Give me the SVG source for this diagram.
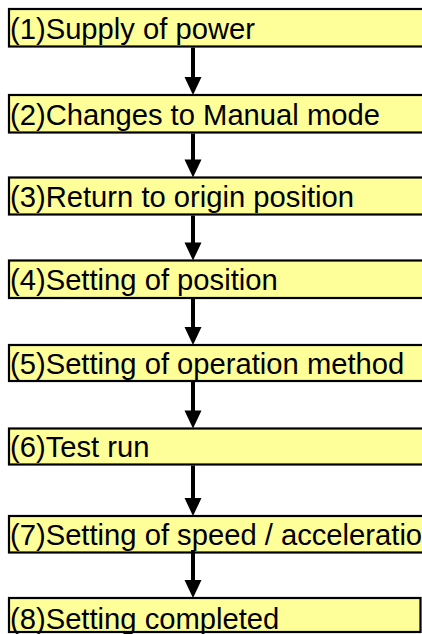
<svg xmlns="http://www.w3.org/2000/svg" width="422" height="634" viewBox="0 0 422 634">
<style>
.box{fill:#FFFF99;stroke:#000;stroke-width:2.2}
.lbl{font-family:"Liberation Sans",Arial,sans-serif;font-size:29.2px;fill:#000}
.conn{stroke:#000;stroke-width:4;fill:none}
.head{fill:#000}
</style>
<rect width="422" height="634" fill="#fff"/>
<g id="n1"><rect class="box" x="9" y="9" width="420" height="37.5"/><text class="lbl" x="10" y="38.5">(1)Supply of power</text></g>
<g id="n2"><rect class="box" x="9" y="95" width="420" height="37.5"/><text class="lbl" x="10" y="124.5">(2)Changes to Manual mode</text></g>
<g id="n3"><rect class="box" x="9" y="177.5" width="420" height="37"/><text class="lbl" x="10" y="207">(3)Return to origin position</text></g>
<g id="n4"><rect class="box" x="9" y="260.5" width="420" height="37.5"/><text class="lbl" x="10" y="290">(4)Setting of position</text></g>
<g id="n5"><rect class="box" x="9" y="345" width="420" height="36"/><text class="lbl" x="10" y="373.5">(5)Setting of operation method</text></g>
<g id="n6"><rect class="box" x="9" y="428.5" width="420" height="36"/><text class="lbl" x="10" y="457">(6)Test run</text></g>
<g id="n7"><rect class="box" x="9" y="516" width="420" height="36.5"/><text class="lbl" x="10" y="545">(7)Setting of speed / acceleration</text></g>
<g id="n8"><rect class="box" x="9" y="598" width="411.5" height="34"/><text class="lbl" x="10" y="629">(8)Setting completed</text></g>
<g id="connectors">
<line class="conn" x1="193" y1="47.5" x2="193" y2="78"/><polygon class="head" points="184.5,77 201.5,77 193,95"/>
<line class="conn" x1="193" y1="133.5" x2="193" y2="160"/><polygon class="head" points="184.5,159.5 201.5,159.5 193,177.5"/>
<line class="conn" x1="193" y1="215.5" x2="193" y2="243"/><polygon class="head" points="184.5,242.5 201.5,242.5 193,260.5"/>
<line class="conn" x1="193" y1="299" x2="193" y2="328"/><polygon class="head" points="184.5,327 201.5,327 193,345"/>
<line class="conn" x1="193" y1="382" x2="193" y2="411"/><polygon class="head" points="184.5,410.5 201.5,410.5 193,428.5"/>
<line class="conn" x1="193" y1="465.5" x2="193" y2="499"/><polygon class="head" points="184.5,498 201.5,498 193,516"/>
<line class="conn" x1="193" y1="550" x2="193" y2="581"/><polygon class="head" points="184.5,580 201.5,580 193,598"/>
</g>
</svg>
